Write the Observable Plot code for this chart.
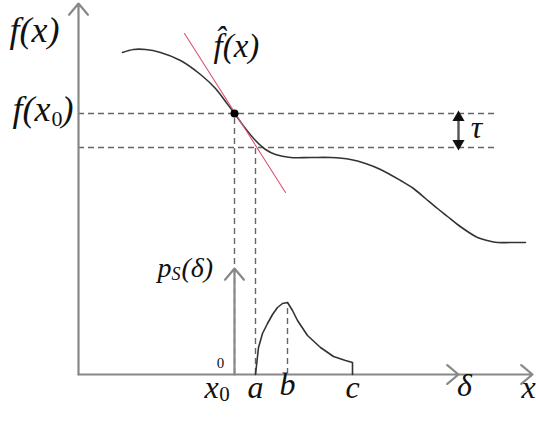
<!DOCTYPE html>
<html><head><meta charset="utf-8">
<script src="https://cdn.jsdelivr.net/npm/d3@7"></script>
<script src="https://cdn.jsdelivr.net/npm/@observablehq/plot@0.6"></script>
<style>body{margin:0;background:#fff}</style>
</head><body><div id="chart"></div>
<script>
// Coordinates: u = horizontal units from the origin, v = vertical units up from the x axis
const fU = [44,55,67,82,102,122,137,147,156,167,177,187,197,212,232,252,272,287,302,322,335,347,359,369,379,389,399,409,419,432,447];
const fV = [322,325,325,322,314,300,286,273,261,246,234,225,220,217,217,217,215,211,205,194,186,176,166,158,150,143,137,134,132,132,132];
const tangentU = [106,207];
const tangentV = [341,182];
const pU = [177,180,184,189,194,199,204,209,214,219,229,242,255,267,274,274];
const pV = [0,27,41,51,60,67,71,72,64,54,39,27,18,14,12,0];
const x0 = 156, a = 177, b = 209, c = 274;
const fx0 = 261, fLow = 227, tauU = 380, dashEnd = 419;
const deltaAxisTop = 106, deltaAxisEnd = 380, xAxisEnd = 454, yAxisTop = 371;
const peakV = 72;

// labels
const labText = ["f(x)", "f(x", "0", ")", "f\u0302(x)", "τ", "p", "S", "(δ)", "0", "x", "0", "a", "b", "c", "δ", "x"];
const labU    = [-44, -28, -27, -17, 135, 398, 79, 93, 103, 142, 133, 146, 177, 209, 274, 386, 450];
const labV    = [344, 265, 256, 265, 328, 247, 106, 100, 106, 11, -13, -20, -13, -10, -13, -11, -13];
const labSize = [36, 36, 22, 36, 33, 32, 28, 18, 28, 15, 32, 21, 32, 32, 32, 32, 32];
const labAnchor = ["middle","end","start","start","start","middle","start","start","start","middle","middle","middle","middle","middle","middle","middle","middle"];
const labItalic = [1,1,0,1,1,1,1,1,1,0,1,0,1,1,1,1,1];

const labels = labText.map((t,i)=>({t,u:labU[i],v:labV[i],s:labSize[i],an:labAnchor[i],it:labItalic[i]}));
const fData = fU.map((u,i)=>({u,v:fV[i]}));
const pData = pU.map((u,i)=>({u,v:pV[i]}));
const tanData = tangentU.map((u,i)=>({u,v:tangentV[i]}));

const axisColor = "#888";
const dash = {stroke:"#666", strokeWidth:1.4, strokeDasharray:"6,4"};
const font = "Liberation Serif";

const textMarks = [];
const groups = d3.groups(labels, d=>d.s+"|"+d.an+"|"+d.it);
for (const [k, arr] of groups) {
  const [s, an, it] = k.split("|");
  textMarks.push(Plot.text(arr, {x:"u", y:"v", text:"t", fontSize:+s, textAnchor:an, lineAnchor:"middle",
    fontFamily:font, fontStyle: it==="1" ? "italic" : "normal", fill:"#111"}));
}

const chart = Plot.plot({
  width:536, height:438, margin:0,
  x:{domain:[-78,458], range:[0,536], axis:null},
  y:{domain:[-64,374], range:[438,0], axis:null},
  marks:[
    Plot.ruleY([fx0], {x1:0, x2:dashEnd, ...dash}),
    Plot.ruleY([fLow], {x1:0, x2:dashEnd, ...dash}),
    Plot.ruleX([x0], {y1:0, y2:fx0, ...dash}),
    Plot.ruleX([a], {y1:0, y2:fLow, ...dash}),
    Plot.ruleX([b], {y1:0, y2:peakV, ...dash}),
    Plot.arrow([{x1:0,y1:0,x2:0,y2:yAxisTop}], {x1:"x1",y1:"y1",x2:"x2",y2:"y2",stroke:axisColor,strokeWidth:2.2,headAngle:80,headLength:10}),
    Plot.arrow([{x1:0,y1:0,x2:deltaAxisEnd,y2:0},{x1:deltaAxisEnd,y1:0,x2:xAxisEnd,y2:0},{x1:x0,y1:0,x2:x0,y2:deltaAxisTop}],
      {x1:"x1",y1:"y1",x2:"x2",y2:"y2",stroke:axisColor,strokeWidth:2.2,headAngle:80,headLength:10}),
    // tau double arrow with filled heads
    Plot.ruleX([tauU], {y1:fLow+4, y2:fx0-4, stroke:"#555", strokeWidth:2.4}),
    Plot.dot([{u:tauU,v:fx0-4,r:0},{u:tauU,v:fLow+4,r:180}], {x:"u", y:"v", rotate:"r", symbol:"triangle", fill:"#111", stroke:"none", r:4.5}),
    Plot.line(fData, {x:"u", y:"v", curve:"catmull-rom", stroke:"#333", strokeWidth:1.6}),
    Plot.line(tanData, {x:"u", y:"v", stroke:"#e0506e", strokeWidth:1.1}),
    Plot.line(pData, {x:"u", y:"v", curve:"linear", stroke:"#333", strokeWidth:1.6}),
    Plot.dot([{u:x0,v:fx0}], {x:"u", y:"v", r:4, fill:"#000"}),
    ...textMarks
  ]
});
document.getElementById("chart").appendChild(chart);
</script>
</body></html>
